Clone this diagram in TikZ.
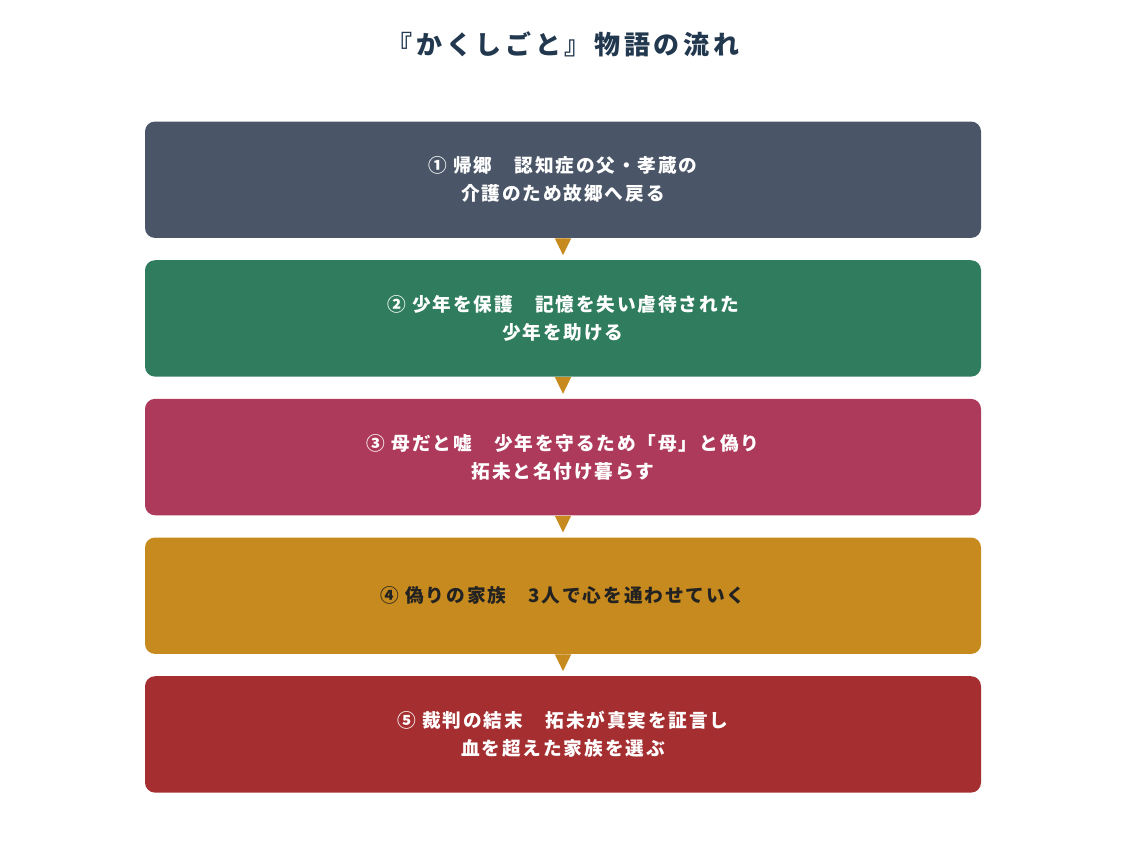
\documentclass[tikz,border=0pt]{standalone}
\usepackage{fontspec}
\usepackage{tikz}
\usetikzlibrary{arrows.meta,positioning}
\newfontfamily\jpfont{Noto Sans CJK JP}[LetterSpace=10]
\newfontfamily\jptitle{Noto Sans CJK JP}[LetterSpace=14]
\definecolor{titleblue}{HTML}{22384F}
\definecolor{slate}{HTML}{4A5568}
\definecolor{pine}{HTML}{2F7D5E}
\definecolor{berry}{HTML}{AE3A5B}
\definecolor{gold}{HTML}{C68A1E}
\definecolor{brick}{HTML}{A52F30}
\definecolor{ink}{HTML}{222222}

\begin{document}
\begin{tikzpicture}[node distance=16.3pt,
	stage/.style={rounded corners=7.5pt,minimum width=627pt,minimum height=87.3pt,inner sep=0pt,align=center,text=white,font=\jpfont\bfseries\fontsize{14pt}{21pt}\selectfont},
	flow/.style={-{Triangle[length=12.5pt,width=12pt]},gold,line width=0.75pt,shorten >=3.6pt}]
		\useasboundingbox (0,0) rectangle (844.5pt,-648pt);
		\node[text=titleblue,font=\jptitle\bfseries\fontsize{19.5pt}{24pt}\selectfont] (title) at (422.25pt,-33pt) {『かくしごと』物語の流れ};
		\node[stage,fill=slate] (st1) at (422.25pt,-134.8pt) {① 帰郷　認知症の父・孝蔵の\\介護のため故郷へ戻る};
		\node[stage,fill=pine] (st2) [below=of st1] {② 少年を保護　記憶を失い虐待された\\少年を助ける};
		\node[stage,fill=berry] (st3) [below=of st2] {③ 母だと嘘　少年を守るため「母」と偽り\\拓未と名付け暮らす};
		\node[stage,fill=gold,text=ink] (st4) [below=of st3] {④ 偽りの家族　3人で心を通わせていく};
		\node[stage,fill=brick] (st5) [below=of st4] {⑤ 裁判の結末　拓未が真実を証言し\\血を超えた家族を選ぶ};

		\path[flow]
		(st1) edge (st2)
		(st2) edge (st3)
		(st3) edge (st4)
		(st4) edge (st5)
		;
	\end{tikzpicture}
\end{document}
